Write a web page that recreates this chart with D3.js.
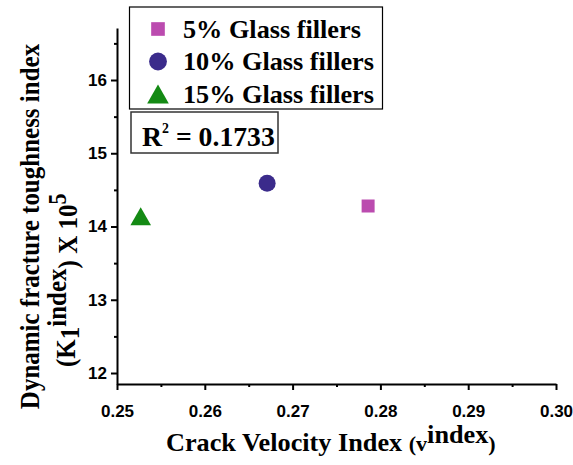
<!DOCTYPE html>
<html>
<head>
<meta charset="utf-8">
<script src="https://cdn.jsdelivr.net/npm/d3@7"></script>
<style>
    body { margin: 0; background: #fff; }
    .tick text { font-family: "Liberation Sans", Arial, sans-serif; font-weight: bold; font-size: 17px; fill: #000; }
    .serif { font-family: "Liberation Serif", "Times New Roman", serif; font-weight: bold; fill: #000; }
</style>
</head>
<body>
<svg id="chart" width="573" height="465"></svg>
<script>
// data
const seriesNames = ["5% Glass fillers", "10% Glass fillers", "15% Glass fillers"];
const crackVelocity = [0.2786, 0.2671, 0.2527];
const toughness = [14.28, 14.59, 14.14];
const xTicks = [0.25, 0.26, 0.27, 0.28, 0.29, 0.30];
const xMinorTicks = [0.255, 0.265, 0.275, 0.285, 0.295];
const yTicks = [12, 13, 14, 15, 16];
const yMinorTicks = [12.5, 13.5, 14.5, 15.5, 16.5];
const rSquared = "0.1733";

const colors = ["#BB4BAF", "#3B2B8B", "#148A14"];
const shapes = ["square", "circle", "triangle"];

// the original figure is a little stretched sideways
const stretch = 1.05;

let svg = d3.select("#chart");
let margin = {left: 117, top: 28, right: 17, bottom: 81};
let width = 573 - margin.left - margin.right;
let height = 465 - margin.top - margin.bottom;

let xScale = d3.scaleLinear().domain([0.25, 0.30]).range([0, width]);
let yScale = d3.scaleLinear().domain([11.85, 16.71]).range([height, 0]);

let g = svg.append("g").attr("transform", "translate(" + margin.left + "," + margin.top + ")");

// symbol path centred on its bounding box
function markerPath(shape) {
    if (shape === "square") return "M-6.5,-6.5H6.5V6.5H-6.5Z";
    if (shape === "circle") return d3.symbol(d3.symbolCircle, 227)();
    return "M0,-9L10.3,9H-10.3Z";
}

// axes
let xAxis = d3.axisBottom(xScale).tickValues(xTicks).tickFormat(d3.format(".2f"))
    .tickSize(6).tickSizeOuter(0).tickPadding(15);
g.append("g").attr("transform", "translate(0," + height + ")").call(xAxis);
g.append("g").attr("transform", "translate(0," + height + ")")
    .call(d3.axisBottom(xScale).tickValues(xMinorTicks).tickFormat("").tickSize(3).tickSizeOuter(0))
    .select(".domain").remove();

let yAxis = d3.axisLeft(yScale).tickValues(yTicks).tickFormat(d3.format("d"))
    .tickSize(6).tickSizeOuter(0).tickPadding(4);
g.append("g").call(yAxis);
g.append("g")
    .call(d3.axisLeft(yScale).tickValues(yMinorTicks).tickFormat("").tickSize(3).tickSizeOuter(0))
    .select(".domain").remove();

g.selectAll(".domain").attr("stroke", "#000").attr("stroke-width", 2);
g.selectAll(".tick line").attr("stroke", "#000").attr("stroke-width", 2);

// points
g.selectAll(".pt")
    .data(seriesNames)
    .enter().append("path")
    .attr("class", "pt")
    .attr("d", (d, i) => markerPath(shapes[i]))
    .attr("transform", (d, i) => "translate(" + xScale(crackVelocity[i]) + "," + yScale(toughness[i]) + ")")
    .attr("fill", (d, i) => colors[i]);

// legend
let legend = svg.append("g").attr("transform", "translate(129.5,7)");
legend.append("rect").attr("width", 253).attr("height", 102)
    .attr("fill", "none").attr("stroke", "#000").attr("stroke-width", 1.2);
let rows = legend.selectAll(".row").data(seriesNames).enter().append("g")
    .attr("transform", (d, i) => "translate(0," + (22 + i * 32.5) + ")");
rows.append("path").attr("d", (d, i) => markerPath(shapes[i]))
    .attr("transform", "translate(28.5,0) scale(1.05)")
    .attr("fill", (d, i) => colors[i]);
rows.append("text").attr("class", "serif")
    .attr("transform", "translate(53.5,8.5) scale(" + stretch + ",1)")
    .style("font-size", "25px").text(d => d);

// R squared box
let rbox = svg.append("g").attr("transform", "translate(131,112)");
rbox.append("rect").attr("width", 147).attr("height", 41)
    .attr("fill", "none").attr("stroke", "#333").attr("stroke-width", 1.5);
let rt = rbox.append("text").attr("class", "serif")
    .attr("transform", "translate(11,34) scale(0.99,1)").style("font-size", "28px");
rt.append("tspan").text("R");
rt.append("tspan").attr("dy", -13).style("font-size", "14px").text("2");
rt.append("tspan").attr("dy", 13).text(" = " + rSquared);

// x title
let xt = svg.append("text").attr("class", "serif")
    .attr("transform", "translate(166,451) scale(" + stretch + ",1)").style("font-size", "25px");
xt.append("tspan").text("Crack Velocity Index ");
xt.append("tspan").style("font-size", "21px").text("(v");
xt.append("tspan").attr("dy", -8).text("index");
xt.append("tspan").attr("dy", 8).style("font-size", "21px").text(")");

// y title
let yt = svg.append("g").attr("transform", "scale(1.1,1) rotate(-90)");
yt.append("text").attr("class", "serif").attr("x", -226.5).attr("y", 39 / 1.1)
    .attr("text-anchor", "middle").style("font-size", "25px")
    .text("Dynamic fracture toughness index");
let yt2 = yt.append("text").attr("class", "serif").attr("x", -367).attr("y", 75 / 1.1)
    .style("font-size", "25px");
yt2.append("tspan").text("(K");
yt2.append("tspan").attr("dy", 4).text("1");
yt2.append("tspan").attr("dy", -12).text("index");
yt2.append("tspan").attr("dy", 10).text(")");
yt2.append("tspan").text(" X 10");
yt2.append("tspan").attr("dy", -10).style("font-size", "22px").text("5");
</script>
</body>
</html>
